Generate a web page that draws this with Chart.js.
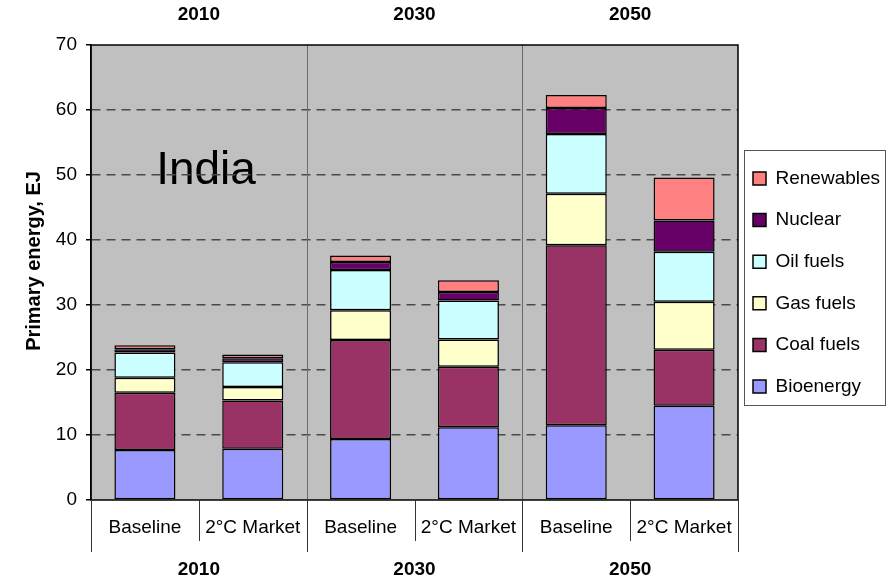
<!DOCTYPE html>
<html lang="en">
<head>
    <meta charset="UTF-8">
    <title>India primary energy</title>
    <style>
      body {
        margin: 0;
        padding: 0;
        background-color: #ffffff;
      }
      #chartCanvas {
        display: block;
      }
    </style>
    <script src="https://cdn.jsdelivr.net/npm/chart.js"></script>
</head>
<body>

  <canvas id="chartCanvas" width="893" height="582"></canvas>

  <script>
    // scenario under each bar, and the year group it belongs to
    const categories = ['Baseline', '2°C Market', 'Baseline', '2°C Market', 'Baseline', '2°C Market'];
    const years = ['2010', '2030', '2050'];
    const yTicks = [0, 10, 20, 30, 40, 50, 60, 70];

    // EJ per source
    const bioenergy  = [7.7, 7.9, 9.4, 11.2, 11.5, 14.5];
    const coalFuels  = [8.8, 7.4, 15.2, 9.3, 27.7, 8.6];
    const gasFuels   = [2.3, 2.1, 4.6, 4.2, 7.9, 7.4];
    const oilFuels   = [3.9, 3.8, 6.2, 6.0, 9.2, 7.7];
    const nuclear    = [0.5, 0.6, 1.2, 1.3, 4.0, 4.8];
    const renewables = [0.6, 0.6, 1.0, 1.8, 2.0, 6.6];

    const FONT = 'Arial, "Liberation Sans", sans-serif';
    const LEGEND_PAD = 22.6;

    function ds(label, data, color) {
      return {
        label: label,
        data: data,
        backgroundColor: color,
        borderColor: '#000000',
        borderWidth: 1.5,
        borderSkipped: false,
        barPercentage: 0.566,
        categoryPercentage: 1.0
      };
    }

    // gray plot area, frame, group separators, year labels, region name
    const decor = {
      id: 'decor',
      afterLayout(chart) {
        // nudge the legend up and left, like the original box
        const lg = chart.legend;
        const dx = LEGEND_PAD - 15;
        lg.left -= dx; lg.right -= dx;
        lg.top -= 10; lg.bottom -= 10;
      },
      beforeDraw(chart) {
        const ctx = chart.ctx;
        const a = chart.chartArea;
        ctx.save();
        ctx.fillStyle = '#c0c0c0';
        ctx.fillRect(a.left, a.top, a.right - a.left, a.bottom - a.top);
        ctx.fillStyle = '#000000';
        ctx.font = '46px ' + FONT;
        ctx.textAlign = 'center';
        ctx.textBaseline = 'alphabetic';
        ctx.fillText('India', 206, 184);
        ctx.restore();
      },
      beforeDatasetsDraw(chart) {
        const ctx = chart.ctx;
        const a = chart.chartArea;
        const x = chart.scales.x;
        ctx.save();
        ctx.strokeStyle = '#6a6a6a';
        ctx.lineWidth = 1;
        for (let g = 1; g < years.length; g++) {
          const px = Math.round((x.getPixelForValue(g * 2 - 1) + x.getPixelForValue(g * 2)) / 2) + 0.5;
          ctx.beginPath();
          ctx.moveTo(px, a.top);
          ctx.lineTo(px, a.bottom);
          ctx.stroke();
        }
        ctx.restore();
      },
      afterDraw(chart) {
        const ctx = chart.ctx;
        const a = chart.chartArea;
        const x = chart.scales.x;
        ctx.save();
        // plot frame
        ctx.strokeStyle = '#000000';
        ctx.lineWidth = 1.5;
        ctx.strokeRect(a.left, a.top, a.right - a.left, a.bottom - a.top);

        // lines under the axis
        ctx.strokeStyle = '#333333';
        ctx.lineWidth = 1;
        const half = (x.getPixelForValue(1) - x.getPixelForValue(0)) / 2;
        for (let i = 0; i <= categories.length; i++) {
          const px = Math.round(x.getPixelForValue(i) - half) + 0.5;
          const len = (i % 2 === 0) ? 52 : 41;
          ctx.beginPath();
          ctx.moveTo(px, a.bottom);
          ctx.lineTo(px, a.bottom + len);
          ctx.stroke();
        }

        // year labels above and below
        ctx.fillStyle = '#000000';
        ctx.font = 'bold 19px ' + FONT;
        ctx.textAlign = 'center';
        ctx.textBaseline = 'middle';
        years.forEach((yr, g) => {
          const cx = (x.getPixelForValue(g * 2) + x.getPixelForValue(g * 2 + 1)) / 2;
          ctx.fillText(yr, cx, 15);
          ctx.fillText(yr, cx, 570);
        });

        // y axis title
        ctx.save();
        ctx.translate(34, 261);
        ctx.rotate(-Math.PI / 2);
        ctx.font = 'bold 20px ' + FONT;
        ctx.fillText('Primary energy, EJ', 0, 0);
        ctx.restore();

        // legend box border
        ctx.strokeStyle = '#555555';
        ctx.lineWidth = 1;
        ctx.strokeRect(744.5, 150.5, 141, 255);
        ctx.restore();
      }
    };

    new Chart(document.getElementById('chartCanvas'), {
      type: 'bar',
      data: {
        labels: categories,
        datasets: [
          ds('Bioenergy', bioenergy, '#9999ff'),
          ds('Coal fuels', coalFuels, '#993366'),
          ds('Gas fuels', gasFuels, '#ffffcc'),
          ds('Oil fuels', oilFuels, '#ccffff'),
          ds('Nuclear', nuclear, '#660066'),
          ds('Renewables', renewables, '#ff8080')
        ]
      },
      options: {
        responsive: false,
        animation: false,
        layout: {
          padding: { top: 45, bottom: 42, left: 0, right: 0 }
        },
        plugins: {
          legend: {
            position: 'right',
            reverse: true,
            maxWidth: 155,
            labels: {
              boxWidth: 13,
              boxHeight: 13,
              padding: LEGEND_PAD,
              color: '#000000',
              font: { family: FONT, size: 19 }
            }
          },
          tooltip: { enabled: false }
        },
        scales: {
          x: {
            stacked: true,
            afterFit(scale) { scale.height = 40; },
            grid: { display: false, drawTicks: false },
            border: { display: false },
            ticks: {
              padding: 16,
              autoSkip: false,
              maxRotation: 0,
              color: '#000000',
              font: { family: FONT, size: 19 }
            }
          },
          y: {
            stacked: true,
            min: 0,
            max: 70,
            afterFit(scale) { scale.width = 91; },
            afterBuildTicks(scale) {
              scale.ticks = yTicks.map(v => ({ value: v }));
            },
            grid: {
              color: ctx => (ctx.tick && (ctx.tick.value === 0 || ctx.tick.value === 70)) ? 'rgba(0,0,0,0)' : '#4a4a4a',
              lineWidth: 1.5,
              tickLength: 5,
              tickColor: '#000000',
              tickWidth: 1.5,
              tickBorderDash: []
            },
            border: { display: true, color: '#000000', width: 1.5, dash: [9, 6] },
            ticks: {
              padding: 9,
              color: '#000000',
              font: { family: FONT, size: 19 }
            },
            title: { display: false }
          }
        }
      },
      plugins: [decor]
    });
  </script>

</body>
</html>
